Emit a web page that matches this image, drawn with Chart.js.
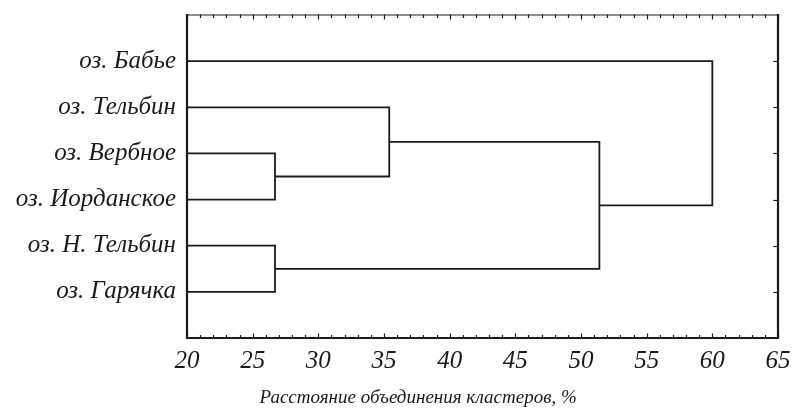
<!DOCTYPE html>
<html>
<head>
<meta charset="utf-8">
<script src="https://cdn.jsdelivr.net/npm/chart.js@4.4.1/dist/chart.umd.min.js"></script>
<style>
    html, body { margin: 0; padding: 0; background: #fff; }
    #wrap { width: 792px; height: 412px; position: relative; }
</style>
</head>
<body>
<div id="wrap"><canvas id="chart"></canvas></div>
<script>
// leaves, top to bottom
const lakes = [
    "оз. Бабье",
    "оз. Тельбин",
    "оз. Вербное",
    "оз. Иорданское",
    "оз. Н. Тельбин",
    "оз. Гарячка",
];
// each merge: [left node, right node, distance]; leaves are 0..5, new clusters get 6, 7, ...
const mergeLeft = [2, 4, 1, 7, 0];
const mergeRight = [3, 5, 6, 8, 9];
const mergeDistance = [26.7, 26.7, 35.4, 51.4, 60.0];
const xTicks = [20, 25, 30, 35, 40, 45, 50, 55, 60, 65];
const xTitle = "Расстояние объединения кластеров, %";

const X_MIN = 20;
const X_MAX = 65;
const INK = "#1a1a1a";
const FONT = "'Liberation Serif', 'DejaVu Serif', serif";

// node positions: leaves sit on the left axis, rows 1..n
const nodeX = lakes.map(() => X_MIN);
const nodeY = lakes.map((_, i) => i + 1);

const datasets = [];
mergeDistance.forEach((d, i) => {
    const a = mergeLeft[i];
    const b = mergeRight[i];
    datasets.push({
        data: [
            { x: nodeX[a], y: nodeY[a] },
            { x: d, y: nodeY[a] },
            { x: d, y: nodeY[b] },
            { x: nodeX[b], y: nodeY[b] },
        ],
        showLine: true,
        borderColor: INK,
        borderWidth: 1.8,
        pointRadius: 0,
        fill: false,
        tension: 0,
    });
    nodeX.push(d);
    nodeY.push((nodeY[a] + nodeY[b]) / 2);
});

// frame with small inward ticks, like the original plot, plus the axis title
const framePlugin = {
    id: "frame",
    afterDatasetsDraw(chart) {
        const { ctx, chartArea: a, scales } = chart;
        const x = scales.x;
        const y = scales.y;
        ctx.save();
        ctx.strokeStyle = INK;
        ctx.lineCap = "square";

        ctx.lineWidth = 1.2;
        for (let v = X_MIN; v <= X_MAX; v++) {
            const px = Math.round(x.getPixelForValue(v)) + 0.5;
            const len = v % 5 === 0 ? 4 : 2.5;
            ctx.beginPath();
            ctx.moveTo(px, a.bottom);
            ctx.lineTo(px, a.bottom - len);
            ctx.moveTo(px, a.top);
            ctx.lineTo(px, a.top + len);
            ctx.stroke();
        }
        lakes.forEach((_, i) => {
            const py = Math.round(y.getPixelForValue(i + 1)) + 0.5;
            ctx.beginPath();
            ctx.moveTo(a.right, py);
            ctx.lineTo(a.right - 4, py);
            ctx.stroke();
        });

        ctx.lineWidth = 1.2;
        ctx.beginPath();
        ctx.moveTo(a.left, a.top);
        ctx.lineTo(a.right, a.top);
        ctx.stroke();

        ctx.lineWidth = 2.2;
        ctx.beginPath();
        ctx.moveTo(a.left, a.top);
        ctx.lineTo(a.left, a.bottom);
        ctx.lineTo(a.right, a.bottom);
        ctx.lineTo(a.right, a.top);
        ctx.stroke();

        // title sits left of the plot centre in the original
        ctx.fillStyle = INK;
        ctx.font = "italic 19px " + FONT;
        ctx.textAlign = "center";
        ctx.textBaseline = "middle";
        ctx.fillText(xTitle, x.getPixelForValue(37.6), a.bottom + 60);
        ctx.restore();
    },
};

new Chart(document.getElementById("chart"), {
    type: "scatter",
    data: { datasets },
    options: {
        responsive: true,
        maintainAspectRatio: false,
        animation: false,
        layout: { padding: { top: 15, right: 14, left: 0, bottom: 0 } },
        plugins: {
            legend: { display: false },
            tooltip: { enabled: false },
        },
        scales: {
            x: {
                type: "linear",
                min: X_MIN,
                max: X_MAX,
                afterBuildTicks: (scale) => {
                    scale.ticks = xTicks.map((v) => ({ value: v }));
                },
                grid: { display: false, drawTicks: false },
                border: { display: false },
                ticks: {
                    color: INK,
                    padding: 8,
                    maxRotation: 0,
                    font: { family: FONT, style: "italic", size: 25 },
                },
                afterFit: (scale) => {
                    scale.height = 74;
                    scale.paddingLeft = 0;
                    scale.paddingRight = 0;
                },
            },
            y: {
                type: "linear",
                reverse: true,
                min: 0,
                max: lakes.length + 1,
                afterBuildTicks: (scale) => {
                    scale.ticks = lakes.map((_, i) => ({ value: i + 1 }));
                },
                grid: { display: false, drawTicks: false },
                border: { display: false },
                ticks: {
                    color: INK,
                    padding: 11,
                    callback: (v) => lakes[v - 1] || "",
                    font: { family: FONT, style: "italic", size: 25 },
                },
                afterFit: (scale) => {
                    scale.width = 187;
                    scale.paddingTop = 0;
                    scale.paddingBottom = 0;
                },
            },
        },
    },
    plugins: [framePlugin],
});
</script>
</body>
</html>
